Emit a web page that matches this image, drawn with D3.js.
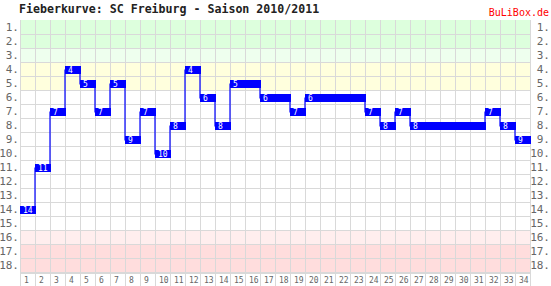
<!DOCTYPE html>
<html>
<head>
<meta charset="utf-8">
<script src="https://cdn.jsdelivr.net/npm/d3@7"></script>
<style>
  body { margin: 0; background: #fff; }
  svg text { font-family: "DejaVu Sans Mono", "Liberation Mono", monospace; }
</style>
</head>
<body>
<div id="chart"></div>
<script>
// Fieberkurve data: league position per matchday
const matchdays = d3.range(1, 35);
const positions = [14, 11, 7, 4, 5, 7, 5, 9, 7, 10, 8, 4, 6, 8, 5, 5, 6, 6, 7, 6,
                   6, 6, 6, 7, 8, 7, 8, 8, 8, 8, 8, 7, 8, 9];
const ranks = d3.range(1, 19);

// coloured table zones (rank -> fill)
const zoneRanks = [1, 2, 3, 4, 5, 16, 17, 18];
const zoneColors = ["#ddffdd", "#ddffdd", "#eeffee", "#ffffdd", "#ffffdd", "#ffeeee", "#ffdddd", "#ffdddd"];

const titleText = "Fieberkurve: SC Freiburg - Saison 2010/2011";
const brandText = "BuLiBox.de";

const width = 551, height = 286;
const margin = { top: 20, right: 21, bottom: 14, left: 20 };

const svg = d3.select("#chart").append("svg")
    .attr("width", width)
    .attr("height", height);

const x = d3.scaleBand()
    .domain(matchdays)
    .range([margin.left, width - margin.right])
    .padding(0);

const y = d3.scaleBand()
    .domain(ranks)
    .range([margin.top, height - margin.bottom])
    .padding(0);

const zone = d3.scaleOrdinal().domain(zoneRanks).range(zoneColors);

// zone backgrounds
svg.append("g").selectAll("rect")
    .data(zoneRanks)
    .join("rect")
    .attr("x", x.range()[0])
    .attr("width", x.range()[1] - x.range()[0])
    .attr("y", d => y(d))
    .attr("height", y.bandwidth())
    .attr("fill", d => zone(d));

// grid
const grid = svg.append("g").attr("stroke", "#d9d9d9").attr("stroke-width", 1);
grid.selectAll(".h")
    .data(ranks.slice(1))
    .join("line")
    .attr("x1", x.range()[0])
    .attr("x2", x.range()[1])
    .attr("y1", d => Math.round(y(d)) + 0.5)
    .attr("y2", d => Math.round(y(d)) + 0.5);

grid.selectAll(".v")
    .data(matchdays.concat([35]))
    .join("line")
    .attr("x1", d => (d === 35 ? x.range()[1] : x(d)) + 0.5)
    .attr("x2", d => (d === 35 ? x.range()[1] : x(d)) + 0.5)
    .attr("y1", y.range()[0])
    .attr("y2", height);

// x axis bar
svg.append("rect")
    .attr("x", x.range()[0])
    .attr("width", x.range()[1] - x.range()[0] + 1)
    .attr("y", y.range()[1])
    .attr("height", 2)
    .attr("fill", "#d9d9d9");

// y labels both sides
svg.append("g").selectAll("text")
    .data(ranks)
    .join("text")
    .attr("x", x.range()[0] - 1)
    .attr("y", d => y(d) + y.bandwidth() / 2 + 4)
    .attr("text-anchor", "end")
    .attr("font-size", 11)
    .attr("fill", "#666")
    .text(d => d + ".");

svg.append("g").selectAll("text")
    .data(ranks)
    .join("text")
    .attr("x", width - 1)
    .attr("y", d => y(d) + y.bandwidth() / 2 + 4)
    .attr("text-anchor", "end")
    .attr("font-size", 11)
    .attr("fill", "#666")
    .text(d => d + ".");

// x labels
svg.append("g").selectAll("text")
    .data(matchdays)
    .join("text")
    .attr("x", d => x(d) + 4)
    .attr("y", height - 3)
    .attr("font-size", 8)
    .attr("fill", "#666")
    .text(d => d);

// step line through block centres
const pts = [];
positions.forEach((p, i) => {
    const cy = y(p) + 8;
    pts.push([x(matchdays[i]), cy]);
    pts.push([x(matchdays[i]) + x.bandwidth(), cy]);
});
svg.append("path")
    .attr("d", d3.line()(pts))
    .attr("fill", "none")
    .attr("stroke", "#0000ff")
    .attr("stroke-width", 1.2);

// runs of equal position become one block
const runs = [];
positions.forEach((p, i) => {
    const last = runs[runs.length - 1];
    if (last && last.pos === p) last.end = matchdays[i];
    else runs.push({ pos: p, start: matchdays[i], end: matchdays[i] });
});

svg.append("g").selectAll("rect")
    .data(runs)
    .join("rect")
    .attr("x", d => x(d.start))
    .attr("width", d => x(d.end) + x.bandwidth() - x(d.start) + 1)
    .attr("y", d => y(d.pos) + 4)
    .attr("height", 8)
    .attr("fill", "#0000ff");

svg.append("g").selectAll("text")
    .data(runs)
    .join("text")
    .attr("x", d => x(d.start) + 3)
    .attr("y", d => y(d.pos) + 11)
    .attr("font-size", 8)
    .attr("fill", "#fff")
    .text(d => d.pos);

// title and brand
svg.append("text")
    .attr("x", 19)
    .attr("y", 13)
    .attr("font-size", 11.6)
    .attr("font-weight", "bold")
    .attr("fill", "#222")
    .text(titleText);

svg.append("text")
    .attr("x", width - 2)
    .attr("y", 16)
    .attr("text-anchor", "end")
    .attr("font-size", 10)
    .attr("fill", "#ff0000")
    .text(brandText);
</script>
</body>
</html>
